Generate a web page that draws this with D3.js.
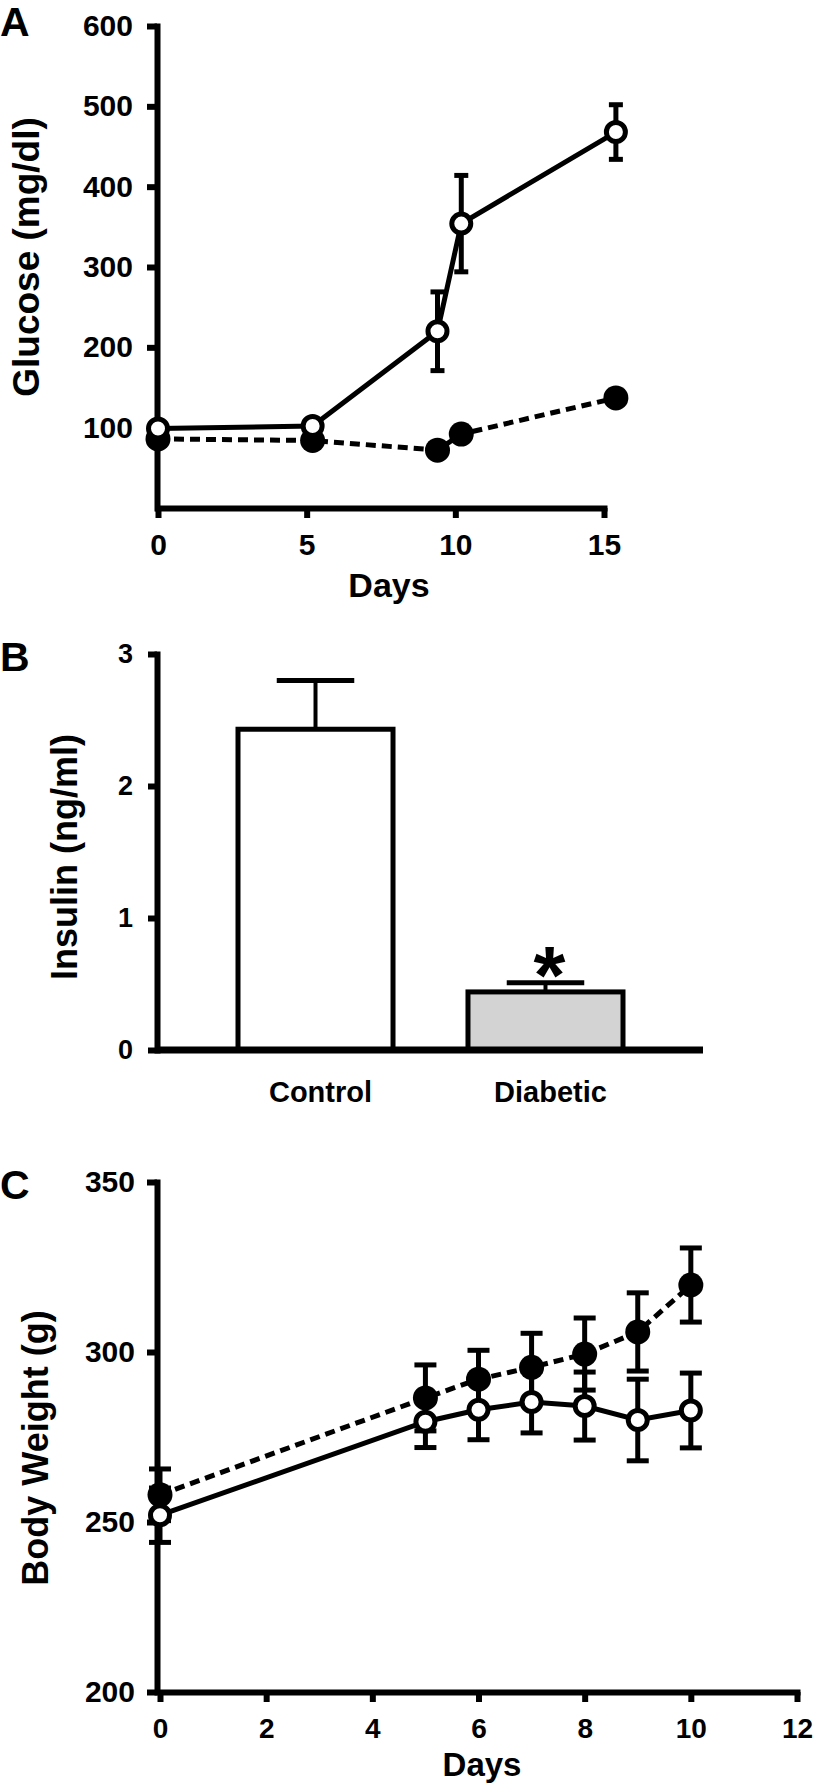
<!DOCTYPE html>
<html>
<head>
<meta charset="utf-8">
<script src="https://cdn.jsdelivr.net/npm/d3@7/dist/d3.min.js"></script>
<style>
  body { margin: 0; background: #fff; }
  svg text { font-family: "Liberation Sans", Arial, sans-serif; font-weight: bold; fill: #000; }
</style>
</head>
<body>
<div id="fig"></div>
<script>

// Panel A - blood glucose over time
const glucoseDays = [0, 5.2, 9.4, 10.2, 15.4];
const glucoseOpen = [99, 102, 220, 354, 468];
const glucoseOpenErr = [0, 0, 49, 60, 34];
const glucoseFilled = [86, 84, 72, 92, 137];
const glucoseFilledErr = [0, 0, 0, 0, 0];
const glucoseTicks = [100, 200, 300, 400, 500, 600];
const glucoseDayTicks = [0, 5, 10, 15];

// Panel B - plasma insulin
const insulinGroups = ["Control", "Diabetic"];
const insulinMeans = [2.43, 0.44];
const insulinErr = [0.37, 0.07];
const insulinFill = ["#ffffff", "#d3d3d3"];
const insulinTicks = [0, 1, 2, 3];

// Panel C - body weight
const weightDays = [0, 5, 6, 7, 8, 9, 10];
const weightFilled = [258, 286.5, 292, 295.5, 299.4, 305.9, 319.7];
const weightFilledErr = [7.6, 9.7, 8.5, 10, 10.6, 11.5, 10.9];
const weightOpen = [252, 279.5, 283, 285.3, 284.1, 280, 282.8];
const weightOpenErr = [8, 7.6, 8.8, 9.1, 10, 12, 11];
const weightTicks = [200, 250, 300, 350];
const weightDayTicks = [0, 2, 4, 6, 8, 10, 12];

let svg = d3.select("#fig")
  .append("svg")
    .attr("width", 820)
    .attr("height", 1785);

// thick black axes like the original figure
function styleAxis(g, fontSize) {
  g.attr("font-family", null).attr("font-size", null);
  g.selectAll(".domain")
    .attr("stroke", "#000")
    .attr("stroke-width", 6)
    .attr("stroke-linecap", "square");
  g.selectAll(".tick line")
    .attr("stroke", "#000")
    .attr("stroke-width", 6);
  g.selectAll(".tick text")
    .attr("font-size", fontSize)
    .attr("fill", "#000");
}

function drawSeries(g, x, y, days, vals, errs, filled, capHalf) {
  let pts = days.map((d, i) => ({day: d, v: vals[i], e: errs[i]}));

  g.append("path")
    .datum(pts)
    .attr("fill", "none")
    .attr("stroke", "#000")
    .attr("stroke-width", 5)
    .attr("stroke-dasharray", filled ? "10,6" : null)
    .attr("d", d3.line().x(d => x(d.day)).y(d => y(d.v)));

  let eb = g.append("g")
      .attr("stroke", "#000")
      .attr("stroke-width", 5)
    .selectAll("g")
    .data(pts.filter(d => d.e > 0))
    .join("g");

  eb.append("line")
    .attr("x1", d => x(d.day)).attr("x2", d => x(d.day))
    .attr("y1", d => y(d.v - d.e)).attr("y2", d => y(d.v + d.e));
  eb.append("line")
    .attr("x1", d => x(d.day) - capHalf).attr("x2", d => x(d.day) + capHalf)
    .attr("y1", d => y(d.v + d.e)).attr("y2", d => y(d.v + d.e));
  eb.append("line")
    .attr("x1", d => x(d.day) - capHalf).attr("x2", d => x(d.day) + capHalf)
    .attr("y1", d => y(d.v - d.e)).attr("y2", d => y(d.v - d.e));

  g.append("g")
    .selectAll("circle")
    .data(pts)
    .join("circle")
      .attr("cx", d => x(d.day))
      .attr("cy", d => y(d.v))
      .attr("r", filled ? 12.5 : 9.5)
      .attr("fill", filled ? "#000" : "#fff")
      .attr("stroke", "#000")
      .attr("stroke-width", filled ? 0 : 5);
}

function panelLabel(text, y) {
  svg.append("text")
    .attr("x", 0)
    .attr("y", y)
    .attr("font-size", 41)
    .text(text);
}

function axisTitle(text, x, y, size, rotate) {
  svg.append("text")
    .attr("text-anchor", "middle")
    .attr("transform", "translate(" + x + "," + y + ")" + (rotate ? " rotate(-90)" : ""))
    .attr("font-size", size)
    .text(text);
}

// ---------- Panel A ----------
{
  let x = d3.scaleLinear().domain([0, 15]).range([158, 604]);
  let y = d3.scaleLinear().domain([0, 600]).range([508, 26]);

  svg.append("g")
      .attr("transform", "translate(157,0)")
      .call(d3.axisLeft(y).tickValues(glucoseTicks).tickSize(10).tickSizeOuter(0).tickPadding(14))
      .call(g => styleAxis(g, 30));

  svg.append("g")
      .attr("transform", "translate(0,508)")
      .call(d3.axisBottom(x).tickValues(glucoseDayTicks).tickSize(10).tickSizeOuter(0).tickPadding(16))
      .call(g => styleAxis(g, 30));

  let plot = svg.append("g");
  drawSeries(plot, x, y, glucoseDays, glucoseFilled, glucoseFilledErr, true, 7);
  drawSeries(plot, x, y, glucoseDays, glucoseOpen, glucoseOpenErr, false, 7);

  panelLabel("A", 36);
  axisTitle("Glucose (mg/dl)", 39, 257, 37, true);
  axisTitle("Days", 389, 597, 34, false);
}

// ---------- Panel B ----------
{
  let x = d3.scaleBand().domain(insulinGroups).range([238, 623]).paddingInner(0.326).paddingOuter(0);
  let y = d3.scaleLinear().domain([0, 3]).range([1050, 654]);

  svg.append("g")
      .attr("transform", "translate(157,0)")
      .call(d3.axisLeft(y).tickValues(insulinTicks).tickFormat(d3.format("d")).tickSize(9).tickSizeOuter(0).tickPadding(15))
      .call(g => styleAxis(g, 27));

  let bars = svg.append("g")
    .selectAll("g")
    .data(insulinGroups.map((k, i) => ({k: k, v: insulinMeans[i], e: insulinErr[i], fill: insulinFill[i]})))
    .join("g");

  bars.append("line")
    .attr("stroke", "#000").attr("stroke-width", 4)
    .attr("x1", d => x(d.k) + x.bandwidth() / 2).attr("x2", d => x(d.k) + x.bandwidth() / 2)
    .attr("y1", d => y(d.v)).attr("y2", d => y(d.v + d.e));
  bars.append("line")
    .attr("stroke", "#000").attr("stroke-width", 5)
    .attr("x1", d => x(d.k) + x.bandwidth() / 4).attr("x2", d => x(d.k) + x.bandwidth() * 3 / 4)
    .attr("y1", d => y(d.v + d.e)).attr("y2", d => y(d.v + d.e));
  bars.append("rect")
    .attr("x", d => x(d.k))
    .attr("y", d => y(d.v))
    .attr("width", x.bandwidth())
    .attr("height", d => y(0) - y(d.v))
    .attr("fill", d => d.fill)
    .attr("stroke", "#000")
    .attr("stroke-width", 5);

  // baseline runs past the bars
  svg.append("line")
    .attr("x1", 157).attr("x2", 703)
    .attr("y1", y(0)).attr("y2", y(0))
    .attr("stroke", "#000").attr("stroke-width", 7);

  svg.append("g")
      .attr("transform", "translate(5,1050)")
      .call(d3.axisBottom(x).tickSize(0).tickPadding(31))
      .call(g => g.select(".domain").remove())
      .call(g => styleAxis(g, 29));

  // significance mark over the diabetic bar
  svg.append("text")
    .attr("x", x("Diabetic") + x.bandwidth() / 2 + 4)
    .attr("y", y(insulinMeans[1] + insulinErr[1]) + 20)
    .attr("text-anchor", "middle")
    .attr("font-size", 82)
    .text("*");

  panelLabel("B", 671);
  axisTitle("Insulin (ng/ml)", 77, 857, 36, true);
}

// ---------- Panel C ----------
{
  let x = d3.scaleLinear().domain([0, 12]).range([160, 797]);
  let y = d3.scaleLinear().domain([200, 350]).range([1692, 1182]);

  svg.append("g")
      .attr("transform", "translate(157,0)")
      .call(d3.axisLeft(y).tickValues(weightTicks).tickSize(10).tickSizeOuter(0).tickPadding(12))
      .call(g => styleAxis(g, 30));

  svg.append("g")
      .attr("transform", "translate(0,1692)")
      .call(d3.axisBottom(x).tickValues(weightDayTicks).tickSize(10).tickSizeOuter(0).tickPadding(16))
      .call(g => styleAxis(g, 28));

  let plot = svg.append("g");
  drawSeries(plot, x, y, weightDays, weightFilled, weightFilledErr, true, 11);
  drawSeries(plot, x, y, weightDays, weightOpen, weightOpenErr, false, 11);

  panelLabel("C", 1199);
  axisTitle("Body Weight (g)", 48, 1448, 36, true);
  axisTitle("Days", 482, 1776, 33, false);
}

</script>
</body>
</html>
